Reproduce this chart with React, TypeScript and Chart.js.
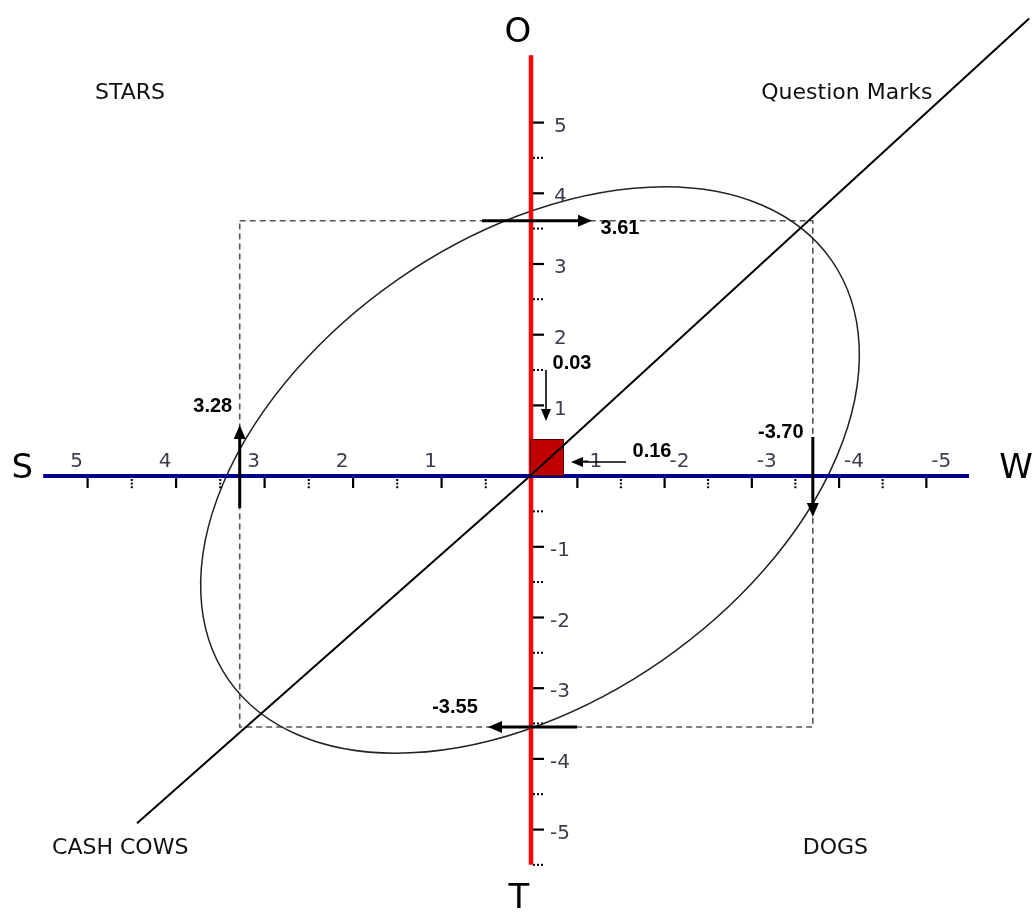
import React, { useEffect, useRef } from 'react';
import { Chart, registerables } from 'chart.js';

Chart.register(...registerables);

const CW = 1033;
const CH = 913;

// ---- data ----
const S_TICKS = [1, 2, 3, 4, 5];
const W_TICKS = [-1, -2, -3, -4, -5];
const O_TICKS = [1, 2, 3, 4, 5];
const T_TICKS = [-1, -2, -3, -4, -5];
const AXIS_NAMES = ['S', 'W', 'O', 'T'];
const S_SCORE = 3.28;
const W_SCORE = -3.7;
const O_SCORE = 3.61;
const T_SCORE = -3.55;
const RESULT_X_LABEL = '0.16';
const RESULT_Y_LABEL = '0.03';
const QUADRANT_NAMES = ['STARS', 'Question Marks', 'CASH COWS', 'DOGS'];
const DIAG_X = [4.44, 0, -5.64];
const DIAG_Y = [-4.91, 0, 6.47];

// ---- layout (scale calibration, not data) ----
const X_ORIGIN = 530;
const X_UNIT = 88.5;
const XW_ORIGIN = 490;
const XW_UNIT = 87.25;
const Y_ORIGIN = 476;
const Y_UNIT = 70.7;

const fmt = (v: number) => v.toFixed(2);

function arrow(ctx: CanvasRenderingContext2D, x1: number, y1: number, x2: number, y2: number, lw: number, hl: number, hw: number) {
  const ang = Math.atan2(y2 - y1, x2 - x1);
  const bx = x2 - hl * Math.cos(ang);
  const by = y2 - hl * Math.sin(ang);
  ctx.save();
  ctx.strokeStyle = '#000';
  ctx.fillStyle = '#000';
  ctx.lineWidth = lw;
  ctx.setLineDash([]);
  ctx.beginPath();
  ctx.moveTo(x1, y1);
  ctx.lineTo(bx, by);
  ctx.stroke();
  ctx.beginPath();
  ctx.moveTo(x2, y2);
  ctx.lineTo(bx + (hw / 2) * Math.sin(ang), by - (hw / 2) * Math.cos(ang));
  ctx.lineTo(bx - (hw / 2) * Math.sin(ang), by + (hw / 2) * Math.cos(ang));
  ctx.closePath();
  ctx.fill();
  ctx.restore();
}

const swotPlugin = {
  id: 'swot',
  beforeDatasetsDraw(chart: any) {
    const ctx: CanvasRenderingContext2D = chart.ctx;
    const sx = chart.scales.x;
    const wx = chart.scales.xW;
    const sy = chart.scales.y;
    const px = (v: number) => sx.getPixelForValue(v);
    const pw = (v: number) => wx.getPixelForValue(v);
    const py = (v: number) => sy.getPixelForValue(v);
    const ox = px(0);
    const oy = py(0);

    ctx.save();
    // dashed rectangle
    ctx.strokeStyle = '#555';
    ctx.lineWidth = 1.6;
    ctx.setLineDash([6, 4]);
    const l = px(S_SCORE), r = pw(W_SCORE), t = py(O_SCORE), b = py(T_SCORE);
    ctx.strokeRect(l, t, r - l, b - t);
    ctx.setLineDash([]);

    // ellipse
    ctx.strokeStyle = '#222';
    ctx.lineWidth = 1.5;
    ctx.beginPath();
    const ecx = px(0.0);
    const ecy = py(0.085);
    const erx = ox - px(4.15);
    const ery = ox - px(2.62);
    ctx.ellipse(ecx, ecy, erx, ery, (-34.8 * Math.PI) / 180, 0, Math.PI * 2);
    ctx.stroke();

    // red vertical axis
    ctx.strokeStyle = '#ff0000';
    ctx.lineWidth = 4.5;
    ctx.beginPath();
    ctx.moveTo(ox + 1, py(5.95));
    ctx.lineTo(ox + 1, py(-5.5));
    ctx.stroke();

    // vertical ticks
    ctx.fillStyle = '#000';
    [...O_TICKS, ...T_TICKS].forEach((v) => {
      ctx.fillRect(ox + 3, py(v) - 1, 11, 2.2);
    });
    const yMinor = [...O_TICKS.map((v) => v - 0.5), ...T_TICKS.map((v) => v + 0.5), T_TICKS[T_TICKS.length - 1] - 0.5];
    yMinor.forEach((v) => {
      const y = py(v);
      for (let k = 0; k < 3; k++) ctx.fillRect(ox + 3 + k * 4, y - 1, 2, 2);
    });

    // blue horizontal axis
    ctx.strokeStyle = '#00008b';
    ctx.lineWidth = 4;
    ctx.beginPath();
    ctx.moveTo(px(5.5), oy);
    ctx.lineTo(pw(-5.49), oy);
    ctx.stroke();

    // horizontal ticks
    ctx.fillStyle = '#000';
    S_TICKS.forEach((v) => ctx.fillRect(px(v) - 1, oy + 2, 2.2, 10));
    W_TICKS.forEach((v) => ctx.fillRect(pw(v) - 1, oy + 2, 2.2, 10));
    const xMinorS = S_TICKS.map((v) => v - 0.5);
    const xMinorW = W_TICKS.slice(1).map((v) => v + 0.5);
    xMinorS.forEach((v) => {
      const x = px(v);
      for (let k = 0; k < 3; k++) ctx.fillRect(x - 1, oy + 3 + k * 3.6, 2, 2);
    });
    xMinorW.forEach((v) => {
      const x = pw(v);
      for (let k = 0; k < 3; k++) ctx.fillRect(x - 1, oy + 3 + k * 3.6, 2, 2);
    });

    // tick labels
    ctx.fillStyle = '#3c3c4c';
    ctx.font = '20px "DejaVu Sans"';
    ctx.textBaseline = 'middle';
    ctx.textAlign = 'center';
    S_TICKS.forEach((v) => ctx.fillText(String(v), px(v) - 11, oy - 14));
    W_TICKS.forEach((v) => ctx.fillText(String(v), pw(v) + 15, oy - 14));
    ctx.textAlign = 'left';
    [...O_TICKS, ...T_TICKS].forEach((v) => {
      const txt = String(v);
      ctx.fillText(txt, ox + (v < 0 ? 20 : 24), py(v) + 4);
    });

    // result marker square
    ctx.fillStyle = '#c00000';
    ctx.strokeStyle = '#5a0000';
    ctx.lineWidth = 1;
    ctx.fillRect(ox, oy - 37, 33, 37);
    ctx.strokeRect(ox + 0.5, oy - 36.5, 33, 36);
    ctx.restore();
  },
  afterDatasetsDraw(chart: any) {
    const ctx: CanvasRenderingContext2D = chart.ctx;
    const sx = chart.scales.x;
    const wx = chart.scales.xW;
    const sy = chart.scales.y;
    const px = (v: number) => sx.getPixelForValue(v);
    const pw = (v: number) => wx.getPixelForValue(v);
    const py = (v: number) => sy.getPixelForValue(v);
    const ox = px(0);
    const oy = py(0);

    ctx.save();
    // factor arrows
    const sX = px(S_SCORE);
    arrow(ctx, sX, oy + 32, sX, oy - 51, 3, 14, 12);
    const wX = pw(W_SCORE);
    arrow(ctx, wX, oy - 39, wX, oy + 41, 3, 14, 12);
    const oY = py(O_SCORE);
    arrow(ctx, ox - 48, oY, ox + 62, oY, 3, 14, 12);
    const tY = py(T_SCORE);
    arrow(ctx, ox + 47, tY, ox - 42, tY, 3, 14, 12);
    // result arrows
    arrow(ctx, ox + 96, oy - 14, ox + 41, oy - 14, 1.6, 12, 10);
    arrow(ctx, ox + 16, oy - 106, ox + 16, oy - 55, 1.6, 12, 10);

    ctx.fillStyle = '#000';
    ctx.font = 'bold 20px "Liberation Sans", Arial, sans-serif';
    ctx.textAlign = 'center';
    ctx.textBaseline = 'middle';
    ctx.fillText(fmt(S_SCORE), sX - 27, oy - 70);
    ctx.fillText(fmt(W_SCORE), wX - 32, oy - 44);
    ctx.fillText(fmt(O_SCORE), ox + 90, oY + 8);
    ctx.fillText(fmt(T_SCORE), ox - 75, tY - 20);
    ctx.fillText(RESULT_X_LABEL, ox + 122, oy - 25);
    ctx.fillText(RESULT_Y_LABEL, ox + 42, oy - 113);

    // axis names
    ctx.fillStyle = '#000';
    ctx.font = '34px "DejaVu Sans"';
    ctx.fillText(AXIS_NAMES[0], px(5.5) - 21, oy - 7);
    ctx.fillText(AXIS_NAMES[1], pw(-5.49) + 47, oy - 7);
    ctx.fillText(AXIS_NAMES[2], ox - 12, py(5.95) - 22);
    ctx.fillText(AXIS_NAMES[3], ox - 11, py(-5.5) + 34);

    // quadrant names
    ctx.fillStyle = '#111';
    ctx.font = '22px "DejaVu Sans"';
    ctx.fillText(QUADRANT_NAMES[0], px(4.52), py(5.42));
    ctx.fillText(QUADRANT_NAMES[1], px(-3.58), py(5.42));
    ctx.fillText(QUADRANT_NAMES[2], px(4.63), py(-5.26));
    ctx.fillText(QUADRANT_NAMES[3], px(-3.45), py(-5.26));
    ctx.restore();
  },
};

export default function App() {
  const ref = useRef<HTMLCanvasElement>(null);
  useEffect(() => {
    const canvas = ref.current;
    if (!canvas) return;
    const chart = new Chart(canvas, {
      type: 'scatter',
      data: {
        datasets: [
          {
            data: DIAG_X.map((x, i) => ({ x, y: DIAG_Y[i] })),
            showLine: true,
            borderColor: '#000',
            borderWidth: 2,
            pointRadius: 0,
            xAxisID: 'x',
            yAxisID: 'y',
          },
        ],
      },
      options: {
        animation: false,
        responsive: false,
        devicePixelRatio: 1,
        events: [],
        layout: { padding: 0, autoPadding: false },
        plugins: { legend: { display: false }, tooltip: { enabled: false } },
        scales: {
          x: {
            type: 'linear',
            display: false,
            reverse: true,
            min: -(CW - X_ORIGIN) / X_UNIT,
            max: X_ORIGIN / X_UNIT,
          },
          xW: {
            type: 'linear',
            axis: 'x',
            display: false,
            reverse: true,
            min: -(CW - XW_ORIGIN) / XW_UNIT,
            max: XW_ORIGIN / XW_UNIT,
          },
          y: {
            type: 'linear',
            display: false,
            min: -(CH - Y_ORIGIN) / Y_UNIT,
            max: Y_ORIGIN / Y_UNIT,
          },
        },
      } as any,
      plugins: [swotPlugin],
    });
    return () => chart.destroy();
  }, []);
  return (
    <div style={{ position: 'fixed', left: 0, top: 0, width: CW, height: CH, background: '#fff' }}>
      <canvas ref={ref} width={CW} height={CH} style={{ width: CW, height: CH, display: 'block' }} />
    </div>
  );
}
